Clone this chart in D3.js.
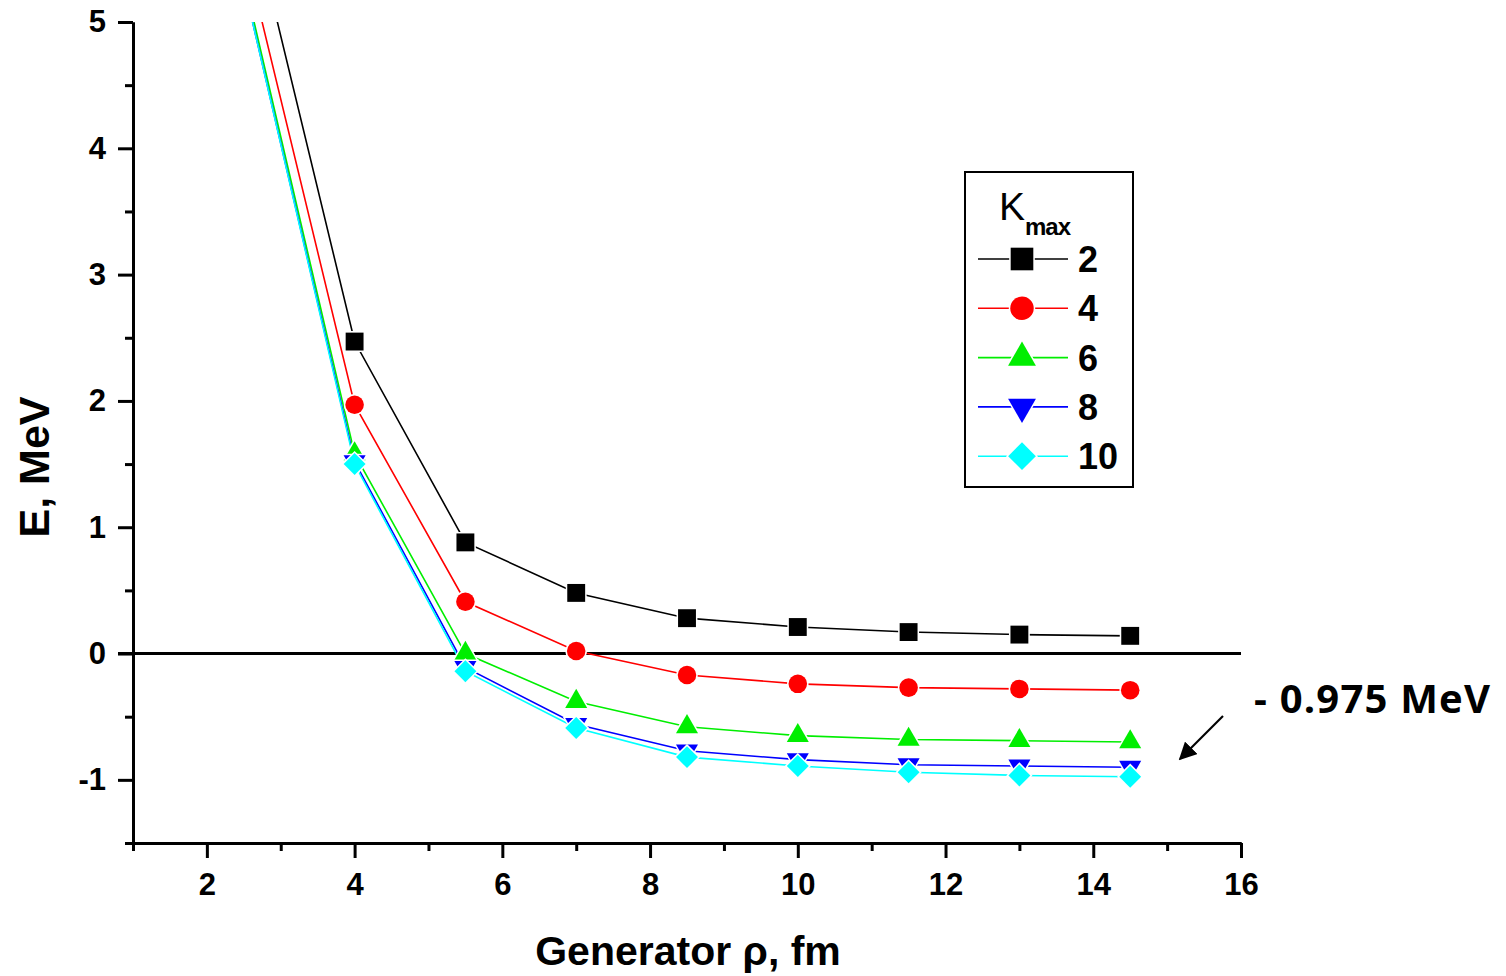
<!DOCTYPE html>
<html>
<head>
<meta charset="utf-8">
<script src="https://cdn.jsdelivr.net/npm/d3@7"></script>
<style>
  body { margin: 0; background: #fff; }
  svg { font-family: "Liberation Sans", Arial, sans-serif; }
</style>
</head>
<body>
<div id="chart"></div>
<script>
// generator rho (fm) and energies (MeV) for each Kmax
const rho = [2.5, 4, 5.5, 7, 8.5, 10, 11.5, 13, 14.5];
const k2  = [6.1, 2.47, 0.88, 0.48, 0.28, 0.21, 0.17, 0.15, 0.14];
const k4  = [5.6, 1.97, 0.41, 0.02, -0.17, -0.24, -0.27, -0.28, -0.29];
const k6  = [5.35, 1.58, 0.0, -0.38, -0.58, -0.65, -0.68, -0.69, -0.70];
const k8  = [5.3, 1.52, -0.11, -0.56, -0.77, -0.84, -0.88, -0.89, -0.90];
const k10 = [5.3, 1.50, -0.14, -0.59, -0.82, -0.89, -0.94, -0.965, -0.975];
const kmax = ["2", "4", "6", "8", "10"];
const xTicks = [2, 4, 6, 8, 10, 12, 14, 16];
const yTicks = [-1, 0, 1, 2, 3, 4, 5];

const W = 1506, H = 976;
const svg = d3.select('#chart')
  .append('svg')
  .attr('width', W)
  .attr('height', H);

const x = d3.scaleLinear().domain([1, 16]).range([133, 1241]);
const y = d3.scaleLinear().domain([-1.5, 5]).range([843, 22]);

svg.append('clipPath').attr('id', 'plot')
  .append('rect')
  .attr('x', x(1)).attr('y', y(5))
  .attr('width', x(16) - x(1)).attr('height', y(-1.5) - y(5));

// zero line
svg.append('line')
  .attr('x1', x(1) - 15).attr('x2', x(16))
  .attr('y1', y(0)).attr('y2', y(0))
  .attr('stroke', '#000').attr('stroke-width', 3);

// axes
const minorX = d3.range(1, 16, 2);
const minorY = d3.range(-1.5, 5, 1);
const plain = d => String(d);

svg.append('g')
  .attr('transform', `translate(0,${y(-1.5)})`)
  .call(d3.axisBottom(x).tickValues(minorX).tickSize(8).tickSizeOuter(0).tickFormat(''))
  .call(g => g.selectAll('line,path').attr('stroke-width', 3));
svg.append('g')
  .attr('transform', `translate(0,${y(-1.5)})`)
  .call(d3.axisBottom(x).tickValues(xTicks).tickFormat(plain).tickSize(15).tickSizeOuter(0).tickPadding(15))
  .call(g => g.selectAll('line,path').attr('stroke-width', 3))
  .call(g => g.selectAll('text').attr('font-size', 31).attr('font-weight', 'bold')
    .attr('font-family', '"Liberation Sans", Arial, sans-serif').attr('fill', '#000'));

svg.append('g')
  .attr('transform', `translate(${x(1)},0)`)
  .call(d3.axisLeft(y).tickValues(minorY).tickSize(8).tickSizeOuter(0).tickFormat(''))
  .call(g => g.selectAll('line,path').attr('stroke-width', 3));
svg.append('g')
  .attr('transform', `translate(${x(1)},0)`)
  .call(d3.axisLeft(y).tickValues(yTicks).tickFormat(plain).tickSize(15).tickSizeOuter(0).tickPadding(12))
  .call(g => g.selectAll('line,path').attr('stroke-width', 3))
  .call(g => g.selectAll('text').attr('font-size', 31).attr('font-weight', 'bold')
    .attr('font-family', '"Liberation Sans", Arial, sans-serif').attr('fill', '#000'));

// axis titles
svg.append('text')
  .attr('x', 688).attr('y', 965)
  .attr('text-anchor', 'middle')
  .attr('font-size', 41).attr('font-weight', 'bold')
  .text('Generator ρ, fm');

svg.append('text')
  .attr('transform', `translate(49,${467}) rotate(-90)`)
  .attr('text-anchor', 'middle')
  .attr('font-size', 43).attr('font-weight', 'bold')
  .text('E, MeV');

// series
const series = [
  { name: kmax[0], values: k2,  color: '#000000', symbol: d3.symbolSquare,   size: 320, rot: 0 },
  { name: kmax[1], values: k4,  color: '#ff0000', symbol: d3.symbolCircle,   size: 270, rot: 0 },
  { name: kmax[2], values: k6,  color: '#00ee00', symbol: d3.symbolTriangle, size: 210, rot: 0 },
  { name: kmax[3], values: k8,  color: '#0000ff', symbol: d3.symbolTriangle, size: 210, rot: 180 },
  { name: kmax[4], values: k10, color: '#00ffff', symbol: d3.symbolSquare,   size: 240, rot: 45 }
];

const line = d3.line().x(d => x(d[0])).y(d => y(d[1]));

series.forEach(s => {
  const pts = rho.map((r, i) => [r, s.values[i]]);
  svg.append('path')
    .attr('clip-path', 'url(#plot)')
    .attr('d', line(pts))
    .attr('fill', 'none')
    .attr('stroke', s.color)
    .attr('stroke-width', 1.6);
});

series.forEach(s => {
  const pts = rho.map((r, i) => [r, s.values[i]]).filter(d => d[1] <= 5);
  svg.append('g').selectAll('path')
    .data(pts)
    .enter()
    .append('path')
    .attr('d', d3.symbol().type(s.symbol).size(s.size))
    .attr('transform', d => `translate(${x(d[0])},${y(d[1])}) rotate(${s.rot})`)
    .attr('fill', s.color)
    .attr('stroke', '#fff')
    .attr('stroke-width', 3)
    .attr('paint-order', 'stroke');
});

// legend
const lg = svg.append('g');
lg.append('rect')
  .attr('x', 965).attr('y', 172)
  .attr('width', 168).attr('height', 315)
  .attr('fill', '#fff').attr('stroke', '#000').attr('stroke-width', 2);
lg.append('text')
  .attr('x', 999).attr('y', 220)
  .attr('font-size', 39)
  .text('K')
  .append('tspan')
  .attr('dy', 15).attr('font-size', 24).attr('font-weight', 'bold')
  .attr('letter-spacing', -1)
  .text('max');

series.forEach((s, i) => {
  const cy = 259 + i * 49.3;
  lg.append('line')
    .attr('x1', 978).attr('x2', 1068)
    .attr('y1', cy).attr('y2', cy)
    .attr('stroke', s.color).attr('stroke-width', 1.6);
  lg.append('path')
    .attr('d', d3.symbol().type(s.symbol).size(s.size * 1.6))
    .attr('transform', `translate(1022,${cy}) rotate(${s.rot})`)
    .attr('fill', s.color)
    .attr('stroke', '#fff').attr('stroke-width', 3).attr('paint-order', 'stroke');
  lg.append('text')
    .attr('x', 1078).attr('y', cy + 13)
    .attr('font-size', 36).attr('font-weight', 'bold')
    .text(s.name);
});

// annotation
svg.append('defs').append('marker')
  .attr('id', 'arrow')
  .attr('viewBox', '0 0 10 10')
  .attr('refX', 9).attr('refY', 5)
  .attr('markerWidth', 8).attr('markerHeight', 8)
  .attr('orient', 'auto')
  .append('path')
  .attr('d', 'M0,0 L10,5 L0,10 Z')
  .attr('fill', '#000');

svg.append('line')
  .attr('x1', 1223).attr('y1', 716)
  .attr('x2', 1180).attr('y2', 759)
  .attr('stroke', '#000').attr('stroke-width', 2.2)
  .attr('marker-end', 'url(#arrow)');

svg.append('text')
  .attr('x', 1254).attr('y', 713)
  .attr('font-family', '"Open Sans", sans-serif')
  .attr('font-size', 40).attr('font-weight', 'bold')
  .attr('letter-spacing', 1.2)
  .text('- 0.975 MeV');
</script>
</body>
</html>
